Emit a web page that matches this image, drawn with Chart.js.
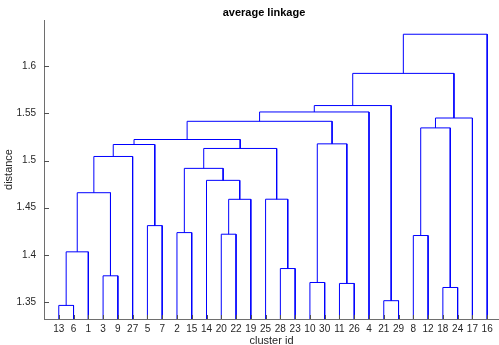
<!DOCTYPE html>
<html>
<head>
<meta charset="utf-8">
<script src="https://cdn.jsdelivr.net/npm/chart.js@4.4.1/dist/chart.umd.min.js"></script>
<style>
  html, body { margin: 0; padding: 0; background: #fff; overflow: hidden; }
</style>
</head>
<body>
<canvas id="dendroChart" width="499" height="345"></canvas>
<script>
// leaves, left to right
const leafOrder = [13, 6, 1, 3, 9, 27, 5, 7, 2, 15, 14, 20, 22, 19, 25, 28, 23, 10, 30, 11, 26, 4, 21, 29, 8, 12, 18, 24, 17, 16];

// linkage rows: row k creates node 30 + k (matlab style)
const leftNode = [13, 21, 18, 11, 10, 3, 28, 31, 8, 20, 2, 5, 40, 25, 38, 14, 41, 45, 47, 48, 35, 50, 39, 52, 53, 54, 56, 57, 58];
const rightNode = [6, 29, 24, 26, 30, 9, 23, 1, 12, 22, 15, 7, 19, 37, 36, 43, 46, 27, 44, 42, 34, 49, 33, 51, 17, 4, 32, 55, 16];
const mergeHeight = [1.3464, 1.3514, 1.3654, 1.3697, 1.3707, 1.3778, 1.3855, 1.4032, 1.4205, 1.4219, 1.4236, 1.431, 1.4589, 1.459, 1.4659, 1.479, 1.4917, 1.5043, 1.5128, 1.517, 1.5177, 1.5223, 1.5346, 1.5416, 1.5451, 1.5515, 1.5583, 1.5924, 1.6339];

const yTicks = [1.35, 1.4, 1.45, 1.5, 1.55, 1.6];
const chartTitle = "average linkage";

const Y_MIN = 1.332;
const Y_MAX = 1.649;
const X_MAX = 30.8;
const LINE_COLOR = "#0000ff";
const AXIS_COLOR = "#6e6e6e";
const TEXT_COLOR = "#262626";
const FONT = "'Liberation Sans', Arial, Helvetica, sans-serif";

// node positions: leaves sit on the axis floor
const nodeX = {};
const nodeY = {};
leafOrder.forEach((id, i) => {
  nodeX[id] = i + 1;
  nodeY[id] = Y_MIN;
});

const datasets = mergeHeight.map((h, k) => {
  const a = leftNode[k];
  const b = rightNode[k];
  const node = leafOrder.length + k + 1;
  nodeX[node] = (nodeX[a] + nodeX[b]) / 2;
  nodeY[node] = h;
  return {
    data: [
      { x: nodeX[a], y: nodeY[a] },
      { x: nodeX[a], y: h },
      { x: nodeX[b], y: h },
      { x: nodeX[b], y: nodeY[b] },
    ],
    showLine: true,
    borderColor: LINE_COLOR,
    backgroundColor: LINE_COLOR,
    borderWidth: 1,
    pointRadius: 0,
    tension: 0,
  };
});

// inward tick marks + the title
const axisDecor = {
  id: "axisDecor",
  afterDatasetsDraw(chart) {
    const { ctx, chartArea, scales } = chart;
    ctx.save();
    ctx.strokeStyle = "#505050";
    ctx.lineWidth = 1;
    ctx.beginPath();
    for (const v of yTicks) {
      const y = Math.round(scales.y.getPixelForValue(v)) + 0.5;
      ctx.moveTo(chartArea.left, y);
      ctx.lineTo(chartArea.left + 5, y);
    }
    leafOrder.forEach((id, i) => {
      const x = Math.round(scales.x.getPixelForValue(i + 1)) + 0.5;
      ctx.moveTo(x, chartArea.bottom);
      ctx.lineTo(x, chartArea.bottom - 4);
    });
    ctx.stroke();

    ctx.fillStyle = "#000";
    ctx.font = "bold 11px " + FONT;
    ctx.textAlign = "center";
    ctx.textBaseline = "middle";
    ctx.fillText(chartTitle, 264, 13);
    ctx.restore();
  },
};

new Chart(document.getElementById("dendroChart"), {
  type: "scatter",
  data: { datasets },
  options: {
    responsive: false,
    animation: false,
    events: [],
    layout: { padding: { top: 20, right: 0, bottom: 0, left: 0 } },
    plugins: {
      legend: { display: false },
      tooltip: { enabled: false },
      title: { display: false },
    },
    scales: {
      x: {
        type: "linear",
        min: 0,
        max: X_MAX,
        afterFit: (scale) => { scale.height = 26; },
        afterBuildTicks: (scale) => {
          scale.ticks = leafOrder.map((id, i) => ({ value: i + 1 }));
        },
        grid: { display: false, drawTicks: false },
        border: { display: true, color: AXIS_COLOR, width: 1 },
        ticks: {
          autoSkip: false,
          maxRotation: 0,
          padding: 4,
          color: TEXT_COLOR,
          font: { family: FONT, size: 10 },
          callback: (v) => leafOrder[v - 1],
        },
        title: {
          display: true,
          text: "cluster id",
          color: TEXT_COLOR,
          font: { family: FONT, size: 11, lineHeight: 0.7 },
          padding: 0,
        },
      },
      y: {
        type: "linear",
        min: Y_MIN,
        max: Y_MAX,
        afterFit: (scale) => { scale.width = 44; },
        afterBuildTicks: (scale) => {
          scale.ticks = yTicks.map((v) => ({ value: v }));
        },
        grid: { display: false, drawTicks: false },
        border: { display: true, color: AXIS_COLOR, width: 1 },
        ticks: {
          padding: 8,
          color: TEXT_COLOR,
          font: { family: FONT, size: 10 },
          callback: (v) => String(Number(v.toFixed(2))),
        },
        title: {
          display: true,
          text: "distance",
          color: TEXT_COLOR,
          font: { family: FONT, size: 11 },
          padding: { top: 2, bottom: 0 },
        },
      },
    },
  },
  plugins: [axisDecor],
});
</script>
</body>
</html>
